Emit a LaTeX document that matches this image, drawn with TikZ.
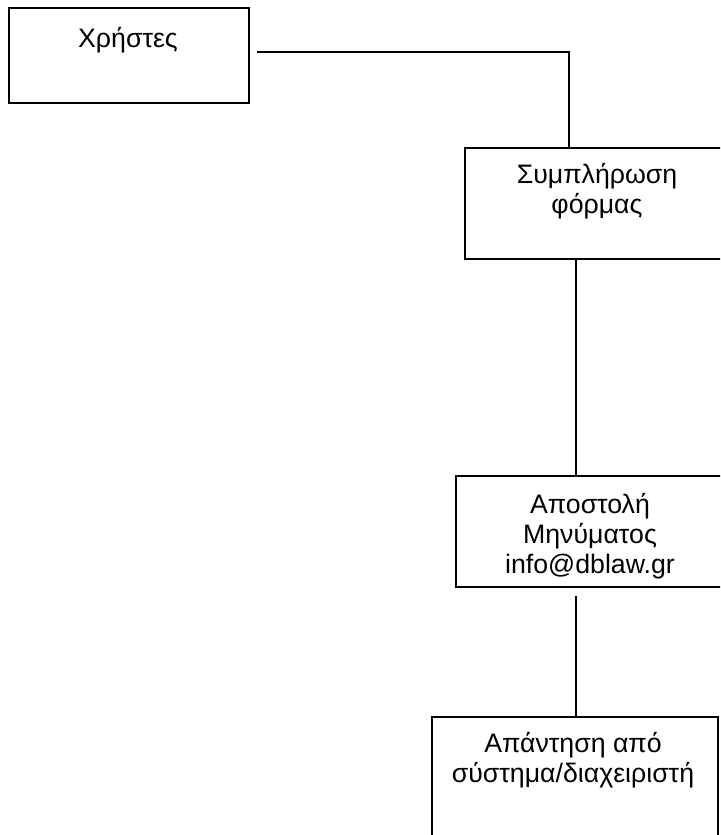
\documentclass[tikz,border=0pt]{standalone}
\usepackage{fontspec}
\setmainfont{Liberation Sans}
\begin{document}
\begin{tikzpicture}[x=1pt,y=-1pt,
  box/.style={draw=black,line width=1.6pt,inner sep=0pt,minimum width=#1},
  lbl/.style={anchor=north,inner sep=0pt,align=center,font=\fontsize{26.7}{30}\selectfont},
  conn/.style={draw=black,line width=1.6pt}]
\useasboundingbox (0,0) rectangle (720,835);
\clip (0,0) rectangle (720,835);
% boxes
\node[box=240pt,minimum height=95pt] (b1) at (129,55.5) {};
\node[box=265pt,minimum height=111pt] (b2) at (597.5,203.5) {};
\node[box=269pt,minimum height=111pt] (b3) at (590.5,531.5) {};
\node[box=286pt,minimum height=140pt] (b4) at (575,787) {};
% labels
\node[lbl] (t1) at (128,27) {Χρήστες};
\node[lbl] (t2) at (597,163) {Συμπλήρωση\\φόρμας};
\node[lbl] (t3) at (590,493) {Αποστολή\\Μηνύματος\\info@dblaw.gr};
\node[lbl] (t4) at (573,732) {Απάντηση από\\σύστημα/διαχειριστή};
% connectors
\coordinate (s1) at (257,52);
\coordinate (s3) at (576,596);
\draw[conn] (s1) -- (569,52) -- (569,0 |- b2.north);
\draw[conn] (576,0 |- b2.south) -- (576,0 |- b3.north);
\draw[conn] (s3) -- (s3 |- b4.north);
\end{tikzpicture}
\end{document}
